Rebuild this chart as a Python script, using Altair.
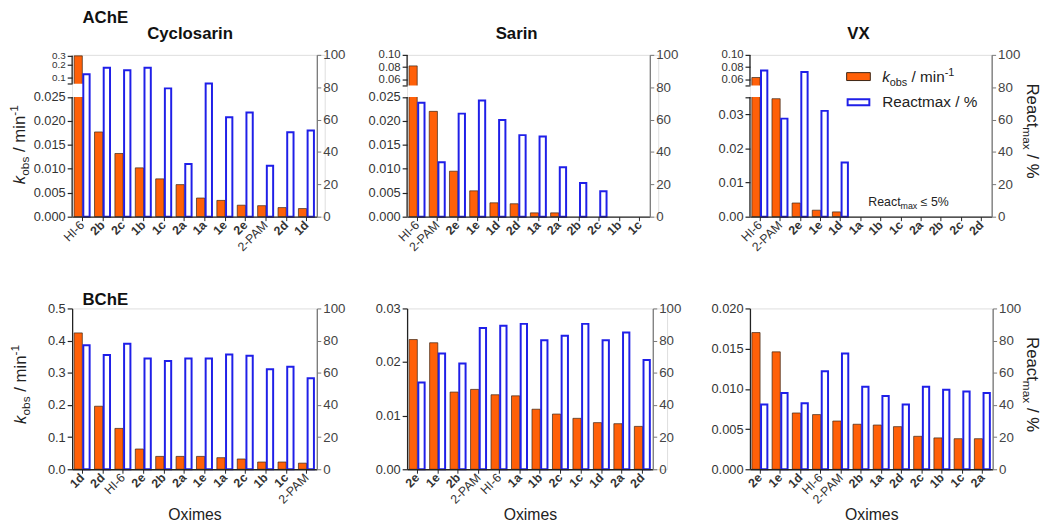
import altair as alt
import pandas as pd

FONT = "Liberation Sans"
ORANGE = "#ff6008"
OUTLINE = "#3b2514"
BLUE = "#1f1fe8"
INK = "#222222"

# ---------------- data ----------------
ACHE_CYC_OX = ["HI-6", "2b", "2c", "1b", "1c", "2a", "1a", "1e", "2e", "2-PAM", "2d", "1d"]
ACHE_CYC_K = [0.300, 0.0177, 0.0132, 0.0102, 0.0079, 0.0067, 0.0039, 0.0034, 0.0024, 0.0023, 0.0019, 0.0017]
ACHE_CYC_R = [88, 92, 90.5, 92, 79.3, 32.5, 82.3, 61.4, 64.4, 31.5, 52.2, 53.3]

ACHE_SAR_OX = ["HI-6", "2-PAM", "2e", "1e", "1d", "2d", "1a", "2a", "2b", "2c", "1b", "1c"]
ACHE_SAR_K = [0.082, 0.0220, 0.0095, 0.0054, 0.0029, 0.0027, 0.0008, 0.0008, 0, 0, 0, 0]
ACHE_SAR_R = [70.4, 33.7, 63.7, 71.8, 59.8, 50.4, 49.6, 30.6, 20.8, 15.7, 0, 0]

ACHE_VX_OX = ["HI-6", "2-PAM", "2e", "1e", "1d", "1a", "1b", "1c", "2a", "2b", "2c", "2d"]
ACHE_VX_K = [0.063, 0.0345, 0.0040, 0.0019, 0.0014, 0, 0, 0, 0, 0, 0, 0]
ACHE_VX_R = [90.4, 60.6, 89.4, 65.4, 33.5, 0, 0, 0, 0, 0, 0, 0]

BCHE_CYC_OX = ["1d", "2d", "HI-6", "2e", "2b", "2a", "1e", "1a", "2c", "1b", "1c", "2-PAM"]
BCHE_CYC_K = [0.424, 0.196, 0.127, 0.063, 0.040, 0.040, 0.040, 0.036, 0.032, 0.0225, 0.0225, 0.019]
BCHE_CYC_R = [77.1, 71.0, 78.1, 68.9, 67.3, 68.9, 68.9, 71.4, 70.6, 62.2, 63.8, 56.6]

BCHE_SAR_OX = ["2e", "1e", "2b", "2-PAM", "HI-6", "1a", "1b", "2c", "1c", "1d", "2a", "2d"]
BCHE_SAR_K = [0.0242, 0.0236, 0.0144, 0.0149, 0.0139, 0.0137, 0.0112, 0.0103, 0.0095, 0.0087, 0.0085, 0.0080]
BCHE_SAR_R = [54.0, 72.0, 65.8, 87.9, 89.2, 90.4, 80.2, 83.0, 90.4, 80.2, 85.1, 67.9]

BCHE_VX_OX = ["2e", "1e", "1d", "HI-6", "2-PAM", "2b", "1a", "2d", "2c", "1b", "1c", "2a"]
BCHE_VX_K = [0.0170, 0.0146, 0.0070, 0.0068, 0.0060, 0.0056, 0.0055, 0.0053, 0.0041, 0.0039, 0.0038, 0.0038]
BCHE_VX_R = [40.3, 47.4, 41.1, 60.9, 72.0, 51.3, 45.6, 40.3, 51.3, 49.5, 48.3, 47.4]

# left-axis ticks / labels ("" = unlabeled break tick)
CYC_TICKS = [0, 0.005, 0.010, 0.015, 0.020, 0.025, 0.06, 0.1, 0.2, 0.3]
CYC_LABELS = ["0.000", "0.005", "0.010", "0.015", "0.020", "0.025", "", "0.1", "0.2", "0.3"]
SAR_TICKS = [0, 0.005, 0.010, 0.015, 0.020, 0.025, 0.05, 0.06, 0.08, 0.10]
SAR_LABELS = ["0.000", "0.005", "0.010", "0.015", "0.020", "0.025", "", "0.06", "0.08", "0.10"]
VX_TICKS = [0, 0.01, 0.02, 0.03, 0.035, 0.05, 0.06, 0.08, 0.10]
VX_LABELS = ["0.00", "0.01", "0.02", "0.03", "", "", "0.06", "0.08", "0.10"]
B_CYC_TICKS = [0, 0.1, 0.2, 0.3, 0.4, 0.5]
B_CYC_LABELS = ["0.0", "0.1", "0.2", "0.3", "0.4", "0.5"]
B_SAR_TICKS = [0, 0.01, 0.02, 0.03]
B_SAR_LABELS = ["0.00", "0.01", "0.02", "0.03"]
B_VX_TICKS = [0, 0.005, 0.010, 0.015, 0.020]
B_VX_LABELS = ["0.000", "0.005", "0.010", "0.015", "0.020"]
REACT_TICKS = [0, 20, 40, 60, 80, 100]

# broken-axis scale knots (domain value -> pixel from plot top)
CYC_KNOTS = [0, 0.025, 0.06, 0.1, 0.2, 0.3]
CYC_POS = [164, 42.7, 29.3, 22.7, 10, 1]
SAR_KNOTS = [0, 0.025, 0.05, 0.1]
SAR_POS = [164, 42.7, 31, 0]
VX_KNOTS = [0, 0.035, 0.05, 0.1]
VX_POS = [164, 42.7, 31, 0]

ONE = pd.DataFrame({"a": [0]})

CW = {' ': 278, '%': 889, '-': 333, '/': 278, '1': 556, '5': 556, 'R': 722, 'a': 556,
      'b': 556, 'c': 500, 'e': 556, 'i': 222, 'k': 500, 'm': 833, 'n': 556, 'o': 556,
      's': 500, 't': 278, 'x': 500, '\u2264': 584}


def tw(s, size):
    return sum(CW.get(ch, 556) for ch in s) / 1000.0 * size


def rich(pieces, x0, y0, angle=0, color=INK):
    out = []
    adv = 0.0
    for text, size, style, shift in pieces:
        lead = len(text) - len(text.lstrip(" "))
        adv += tw(" " * lead, size)
        t = text.strip(" ")
        if angle == 0:
            x, y = x0 + adv, y0 + shift
        elif angle == 270:
            x, y = x0 + shift, y0 - adv
        else:
            x, y = x0 - shift, y0 + adv
        out.append(
            alt.Chart(ONE).mark_text(
                text=t, font=FONT, fontSize=size, fontStyle=style, align="left",
                baseline="alphabetic", angle=angle, color=color
            ).encode(x=alt.value(x), y=alt.value(y))
        )
        adv += tw(t, size)
        trail = len(text) - len(text.rstrip(" "))
        adv += tw(" " * trail, size)
    return out


def label_expr(ticks, labels):
    e = "''"
    for v, l in zip(ticks[::-1], labels[::-1]):
        e = "datum.value == %r ? '%s' : (%s)" % (v, l, e)
    return e


def plain(text, x, y, size, weight="bold", align="left"):
    return alt.Chart(ONE).mark_text(
        text=text, font=FONT, fontSize=size, fontWeight=weight, align=align,
        baseline="alphabetic", color="#111"
    ).encode(x=alt.value(x), y=alt.value(y))


def panel(ox, k, r, width, height, kticks, klabels, kdomain, krange=None,
          brk=None, xtitle=None, extras=(), trail=0, upper_font=13):
    df = pd.DataFrame({"Oxime": ox, "kobs": k, "react": r})
    xaxis = alt.Axis(
        title=xtitle, labelAngle=-45, labelAlign="right", labelBaseline="middle",
        labelFontSize=12.5, labelFont=FONT, labelColor="#333", labelOverlap=False,
        labelFontWeight={"condition": {"test": "datum.value == 'HI-6' || datum.value == '2-PAM'",
                                       "value": "normal"}, "value": "bold"},
        tickSize=4, tickColor=INK, domainColor=INK, domainWidth=1.3, labelPadding=2,
        titleFontSize=16, titleFontWeight="normal", titleFont=FONT, titleColor=INK,
        titlePadding=1, zindex=1,
    )
    xenc = alt.X("Oxime:N", scale=alt.Scale(domain=ox, range=[0, width], paddingInner=0,
                                            paddingOuter=0), axis=xaxis)
    if krange is not None:
        kscale = alt.Scale(domain=kdomain, range=krange, nice=False, zero=False)
    else:
        kscale = alt.Scale(domain=kdomain, nice=False)
    if brk is not None:
        lfs = {"condition": {"test": "datum.value > %r" % brk[0], "value": upper_font}, "value": 13}
    else:
        lfs = 13
    kaxis = alt.Axis(
        orient="left", values=kticks, labelExpr=label_expr(kticks, klabels), title=None,
        labelFontSize=lfs, labelFont=FONT, labelColor="#333", labelOverlap=False, labelFlush=False,
        tickSize=5, tickColor=INK, tickWidth=1.2, domain=brk is None, domainColor=INK,
        domainWidth=1.3, labelPadding=2, grid=False, zindex=1,
    )
    raxis = alt.Axis(
        orient="right", values=REACT_TICKS, title=None, labelFontSize=13.5, labelFont=FONT,
        labelColor="#444", labelOverlap=False, labelFlush=False, tickSize=4, tickColor="#777",
        domainColor="#777", domainWidth=1.3, labelPadding=2, grid=False, zindex=1, offset=-trail,
    )
    orange = alt.Chart(df).transform_filter("datum.kobs > 0").mark_bar(
        width=8.3, xOffset=-4.15, fill=ORANGE, stroke=OUTLINE, strokeWidth=0.7
    ).encode(x=xenc, y=alt.Y("kobs:Q", scale=kscale, axis=kaxis))
    inner = [orange]
    if brk is not None:
        lo, hi, top = brk
        inner.append(alt.Chart(ONE).mark_rect(fill="white").encode(
            x=alt.value(0.8), x2=alt.value(width - 1.5),
            y=alt.YDatum(lo, type="quantitative", axis=kaxis), y2=alt.Y2Datum(hi)))
        inner.append(alt.Chart(ONE).mark_rule(color=INK, strokeWidth=1.3).encode(
            x=alt.value(0), y=alt.YDatum(0, type="quantitative", axis=kaxis), y2=alt.Y2Datum(lo)))
        inner.append(alt.Chart(ONE).mark_rule(color=INK, strokeWidth=1.3).encode(
            x=alt.value(0), y=alt.YDatum(hi, type="quantitative", axis=kaxis), y2=alt.Y2Datum(top)))
    blue = alt.Chart(df).transform_filter("datum.react > 0").mark_bar(
        width=6.4, xOffset=4.2, fill="white", stroke=BLUE, strokeWidth=2
    ).encode(x=xenc, y=alt.Y("react:Q", scale=alt.Scale(domain=[0, 100], nice=False), axis=raxis))
    return alt.layer(alt.layer(*inner), blue, *extras).resolve_scale(y="independent").properties(
        width=width + trail, height=height)


def ktitle(x, y):
    return rich([("k", 17, "italic", 0), ("obs", 12, "normal", 4), (" / min", 17, "normal", 0),
                 ("-1", 12, "normal", -7)], x, y, angle=270)


def rtitle(x, y):
    return rich([("React", 17, "normal", 0), ("max", 12, "normal", 4), (" / %", 17, "normal", 0)],
                x, y, angle=90)


HT, HB = 164, 163
GAP = 83.5

p1 = panel(ACHE_CYC_OX, ACHE_CYC_K, ACHE_CYC_R, 248, HT, CYC_TICKS, CYC_LABELS,
           CYC_KNOTS, CYC_POS, brk=(0.025, 0.06, 0.3), trail=91.5 - GAP, upper_font=10,
           extras=[plain("AChE", 10.5, -32.3, 17), plain("Cyclosarin", 119.5, -16.5, 17, align="center")]
           + ktitle(-47.5, 131))
p2 = panel(ACHE_SAR_OX, ACHE_SAR_K, ACHE_SAR_R, 246, HT, SAR_TICKS, SAR_LABELS,
           SAR_KNOTS, SAR_POS, brk=(0.025, 0.05, 0.1), trail=92 - GAP, upper_font=11.5,
           extras=[plain("Sarin", 111, -15.7, 17, align="center")])
legend = [
    alt.Chart(ONE).mark_rect(fill=ORANGE, stroke=OUTLINE, strokeWidth=1).encode(
        x=alt.value(98), x2=alt.value(122), y=alt.value(18), y2=alt.value(26)),
    alt.Chart(ONE).mark_rect(fill="white", stroke=BLUE, strokeWidth=2).encode(
        x=alt.value(99), x2=alt.value(121), y=alt.value(45), y2=alt.value(51)),
]
legend += rich([("k", 15.5, "italic", 0), ("obs", 11, "normal", 3.5), (" / min", 15.5, "normal", 0),
                ("-1", 11, "normal", -6)], 134, 27.7)
legend += rich([("Reactmax / %", 15.5, "normal", 0)], 134, 53)
legend += rich([("React", 12.5, "normal", 0), ("max", 9, "normal", 3), (" \u2264 5%", 12.5, "normal", 0)],
               120, 153)
p3 = panel(ACHE_VX_OX, ACHE_VX_K, ACHE_VX_R, 245, HT, VX_TICKS, VX_LABELS,
           VX_KNOTS, VX_POS, brk=(0.035, 0.05, 0.1), upper_font=11.5,
           extras=[plain("VX", 110, -16, 17, align="center")] + legend + rtitle(281, 29))

p4 = panel(BCHE_CYC_OX, BCHE_CYC_K, BCHE_CYC_R, 248, HB, B_CYC_TICKS, B_CYC_LABELS,
           [0, 0.5], xtitle="Oximes",
           extras=[plain("BChE", 10.5, -3, 17)] + ktitle(-46.5, 117))
p5 = panel(BCHE_SAR_OX, BCHE_SAR_K, BCHE_SAR_R, 249, HB, B_SAR_TICKS, B_SAR_LABELS,
           [0, 0.03], xtitle="Oximes", trail=98 - GAP)
p6 = panel(BCHE_VX_OX, BCHE_VX_K, BCHE_VX_R, 246, HB, B_VX_TICKS, B_VX_LABELS,
           [0, 0.02], xtitle="Oximes", extras=rtitle(281, 29))

chart = alt.concat(
    p1, p2, p3, p4, p5, p6, columns=3, bounds="flush",
    align={"row": "all", "column": "none"}, spacing={"row": 93, "column": GAP},
).properties(
    padding={"left": 0, "top": -3, "right": 0, "bottom": 0}, background="white"
).configure_view(stroke=None).configure(font=FONT)

chart.save("out.html", embed_options={"renderer": "svg", "actions": False})
